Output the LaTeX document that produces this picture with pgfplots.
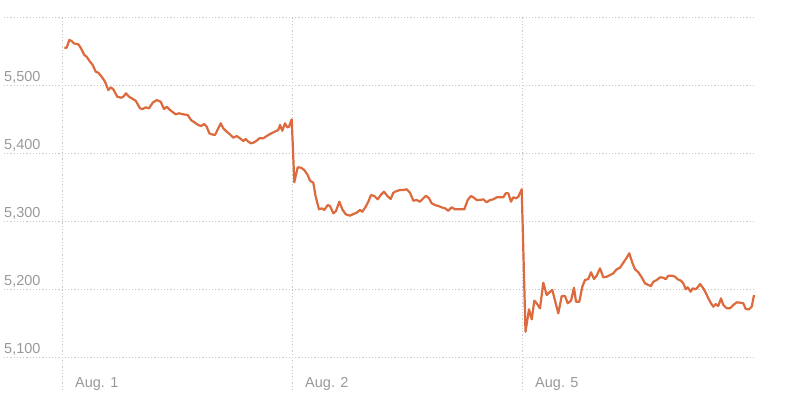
\documentclass[border=0pt]{standalone}
\usepackage{pgfplots}
\pgfplotsset{compat=1.18}
\usepackage{fontspec}
\setmainfont{Liberation Sans}
\usetikzlibrary{calc}
\definecolor{linec}{HTML}{DC6A3C}
\definecolor{gridc}{HTML}{C8C8C8}
\definecolor{labc}{HTML}{999999}
\begin{document}
\begin{tikzpicture}
\begin{axis}[
  name=ax,
  scale only axis,
  width=750pt, height=374pt,
  xmin=-58, xmax=692,
  ymin=5051.5, ymax=5601.5,
  axis line style={draw=none},
  major tick length=0pt,
  xtick={0,230,460},
  xticklabels={Aug. 1, Aug. 2, Aug. 5},
  ytick={5100,5200,5300,5400,5500,5600},
  yticklabels={{5,100},{5,200},{5,300},{5,400},{5,500},{}},
  scaled y ticks=false,
  xmajorgrids, ymajorgrids,
  major grid style={gridc, line width=1pt, dash pattern=on 1.2pt off 2pt},
  ticklabel style={font=\fontsize{14.5}{16}\selectfont, text=labc, inner sep=0pt},
  yticklabel style={anchor=base west, yshift=3.5pt},
  xticklabel style={anchor=base west, xshift=13pt, yshift=2pt},
  clip=false,
]
\addplot[linec, line width=2.2pt, line join=round] coordinates {
(2.3,5554.9)(4.7,5554.9)(7.3,5566.2)(9.7,5564.7)(12,5561.3)(14,5560.3)(16.3,5559.9)(19,5554.0)(22.3,5544.1)(24.7,5541.6)(27.3,5535.7)(30.7,5529.4)(33.7,5519.6)(36.3,5518.1)(39.7,5512.2)(43,5504.9)(46.3,5492.6)(48.7,5496.6)(51.3,5493.7)(55.3,5482.8)(59,5481.3)(61.3,5482.8)(64,5487.8)(67,5482.8)(70.3,5479.9)(73.7,5476.9)(78,5465.7)(80.7,5464.7)(83.7,5467.2)(87,5465.7)(90.7,5474.0)(94.7,5477.9)(98.7,5475.4)(102,5464.7)(104.7,5468.1)(108,5463.2)(113.7,5456.9)(117,5458.4)(121.3,5456.9)(125.7,5455.9)(129,5448.5)(133,5444.6)(136.3,5441.2)(139,5439.7)(142.3,5442.6)(144.7,5438.7)(147.3,5429.0)(149.7,5427.5)(153,5426.5)(156.3,5436.3)(158.7,5443.7)(161.3,5436.3)(164.7,5431.3)(168,5427.5)(171.3,5422.5)(174.7,5425.0)(178,5421.6)(181.3,5417.6)(183.7,5420.6)(186.3,5416.6)(189,5414.3)(191.3,5415.1)(194.7,5418.1)(197.3,5421.6)(201.3,5421.6)(204.7,5425.0)(208,5427.9)(211.3,5430.4)(214,5432.4)(216.3,5433.8)(218,5441.2)(220.3,5432.8)(223,5443.7)(225.3,5437.8)(227,5438.7)(229.7,5449.6)
(232.3,5356.9)(235.7,5379.0)(239,5378.4)(242.3,5375.0)(245.7,5367.6)(248,5359.3)(251.3,5356.3)(253.7,5335.7)(257,5317.2)(259.7,5318.7)(262.3,5316.2)(265.7,5323.5)(268,5322.1)(271.3,5311.3)(274,5314.7)(277.3,5328.4)(280.3,5317.2)(283.7,5309.9)(288,5307.8)(291.3,5310.3)(294.7,5312.2)(298,5316.2)(300.3,5313.7)(303.7,5321.0)(306.3,5328.4)(309,5338.2)(312.3,5336.8)(315.7,5331.9)(318.7,5338.2)(322,5343.1)(325.3,5336.8)(328.7,5332.4)(331.3,5341.6)(334.7,5344.1)(338,5345.6)(341.3,5345.6)(344.7,5346.6)(348,5341.6)(351.3,5329.9)(354.7,5330.9)(358,5328.4)(361.3,5333.4)(364,5337.2)(367,5333.4)(369.7,5326.0)(373,5323.5)(376.3,5322.1)(379.7,5320.1)(383,5318.7)(386.3,5315.1)(389.7,5320.1)(393,5317.2)(396.3,5317.2)(399.7,5317.2)(402.3,5317.2)(405.7,5330.9)(409,5336.8)(411.3,5334.9)(414.7,5330.9)(418,5330.9)(421.3,5331.9)(424.7,5327.5)(428,5330.9)(431.3,5331.9)(434.7,5334.9)(438,5334.9)(441.3,5334.9)(443.7,5340.7)(446.3,5340.7)(449,5328.4)(451.3,5334.9)(454,5333.4)(456.3,5335.7)(459.7,5346.6)
(463.5,5137.2)(467,5170.1)(469.7,5155.4)(472.3,5182.8)(474.7,5179.0)(478,5171.6)(481.3,5209.3)(484.7,5191.2)(488,5196.0)(490.3,5198.5)(493.7,5179.0)(496.3,5164.3)(499.7,5189.7)(503,5189.7)(505.7,5179.0)(509,5182.8)(512,5201.9)(514,5181.3)(517.3,5181.3)(520.3,5203.4)(523,5213.2)(526.3,5214.7)(529,5224.6)(532,5214.7)(534.7,5219.6)(538,5230.4)(541.3,5217.2)(544.7,5218.1)(548,5220.6)(551.3,5223.1)(554.7,5229.0)(558,5231.3)(561.3,5238.7)(564.7,5246.0)(567.3,5252.5)(570.3,5238.7)(573,5229.0)(576.3,5224.6)(579.7,5217.2)(583,5208.4)(586.3,5205.9)(589,5204.4)(591.3,5210.7)(594.7,5213.2)(598,5217.2)(601.3,5216.6)(603.7,5214.3)(606.3,5219.6)(609.7,5219.6)(613,5218.1)(615.7,5214.3)(619,5212.2)(621.3,5208.4)(623.7,5199.6)(625.7,5202.5)(628.7,5196.0)(630.7,5201.0)(633.7,5199.6)(635.7,5202.5)(638,5207.4)(641.3,5201.0)(643.7,5194.6)(646.3,5186.3)(649,5179.0)(651.3,5174.0)(653.7,5177.9)(656.3,5175.0)(659,5186.3)(661.3,5176.5)(664.7,5171.6)(668,5171.6)(671.3,5176.5)(674.7,5180.4)(678,5179.9)(681.3,5179.0)(683.7,5170.6)(687,5170.1)(689.7,5174.0)(692,5191.2)
};
\end{axis}
\pgfresetboundingbox
\path[use as bounding box] ($(ax.south west)+(-4pt,-23pt)$) rectangle ($(ax.north east)+(35pt,16pt)$);
\end{tikzpicture}
\end{document}
